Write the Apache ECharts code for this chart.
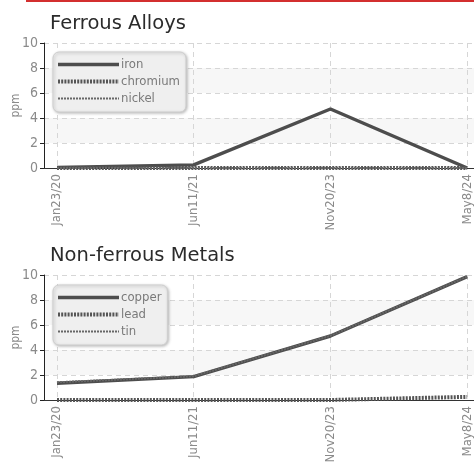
<!DOCTYPE html>
<html><head><meta charset="utf-8">
<script src="https://cdn.jsdelivr.net/npm/echarts@6/dist/echarts.min.js"></script>
<style>html,body{margin:0;padding:0;background:#fff}#c{width:474px;height:465px}</style>
</head><body><div id="c"></div>
<script>
const categories = ['Jan23/20', 'Jun11/21', 'Nov20/23', 'May8/24'];
const yTicks = [0, 2, 4, 6, 8, 10];
const ironValues = [0.05, 0.25, 4.72, 0];
const chromiumValues = [0, 0, 0, 0];
const nickelValues = [0, 0, 0, 0];
const copperValues = [1.34, 1.87, 5.12, 9.87];
const leadValues = [0, 0, 0, 0.25];
const tinValues = [1.42, 1.9, 5.14, 9.88];
const titles = ['Ferrous Alloys', 'Non-ferrous Metals'];
const ferrousNames = ['iron', 'chromium', 'nickel'];
const nonFerrousNames = ['copper', 'lead', 'tin'];

const NARROW = '"Liberation Sans Narrow","DejaVu Sans Condensed","Roboto Condensed",sans-serif';
const idx = categories.map((c, i) => i);
const pts = arr => arr.map((v, i) => [i, v]);
const styles = [
  {type: 'solid', width: 3.5, color: '#4d4d4d'},
  {type: [2, 1.2], width: 4, color: '#555'},
  {type: [2, 1], width: 2, color: '#666'}
];
function mkSeries(names, vals, gi) {
  return names.map((n, k) => ({
    name: n, type: 'line', xAxisIndex: gi, yAxisIndex: gi,
    data: pts(vals[k]), symbol: 'none',
    lineStyle: styles[k], itemStyle: {color: styles[k].color},
    animation: false, z: 3 + k
  }));
}
const grids = [
  {left: 44, top: 43, height: 125, right: 0, outerBoundsMode: 'none', containLabel: false},
  {left: 44, top: 275, height: 125, right: 0, outerBoundsMode: 'none', containLabel: false}
];
function xAx(gi) {
  return {
    gridIndex: gi, type: 'value', min: -0.095, max: 3.05,
    axisLine: {show: true, onZero: false, lineStyle: {color: '#333', width: 1}},
    axisTick: {show: false, customValues: idx},
    axisLabel: {customValues: idx, rotate: 90, margin: 6, color: '#8a8a8a', fontSize: 13, fontFamily: NARROW,
      formatter: v => categories[Math.round(v)] || ''},
    splitLine: {show: true, lineStyle: {type: [5, 4], color: '#d6d6d6', width: 1}}
  };
}
function yAx(gi) {
  return {
    gridIndex: gi, type: 'value', min: yTicks[0], max: yTicks[yTicks.length - 1], interval: 2,
    name: 'ppm', nameLocation: 'middle', nameGap: 22, nameRotate: 90, nameMoveOverlap: false,
    nameTextStyle: {color: '#8a8a8a', fontSize: 12, fontFamily: NARROW},
    axisLine: {show: true, onZero: false, lineStyle: {color: '#222', width: 1}},
    axisTick: {show: true, length: 4, lineStyle: {color: '#222'}},
    axisLabel: {color: '#8a8a8a', fontSize: 14, fontFamily: NARROW, margin: 6},
    splitLine: {show: true, lineStyle: {type: [5, 4], color: '#d6d6d6', width: 1}},
    splitArea: {show: true, areaStyle: {color: ['#ffffff', '#f7f7f7']}}
  };
}
function legend(names, top) {
  return {
    data: names, orient: 'vertical', left: 53, top: top,
    itemWidth: 61, itemHeight: 12, itemGap: 4,
    padding: [6, 6, 7, 3],
    backgroundColor: '#efefef', borderColor: '#cfcfcf', borderWidth: 1, borderRadius: 6,
    shadowBlur: 3, shadowColor: 'rgba(0,0,0,0.25)', shadowOffsetX: 1, shadowOffsetY: 1,
    itemStyle: {color: 'rgba(0,0,0,0)', borderColor: 'rgba(0,0,0,0)', borderWidth: 0, opacity: 0},
    lineStyle: {width: 'inherit', type: 'inherit', color: 'inherit'},
    textStyle: {color: '#7a7a7a', fontSize: 13, fontFamily: NARROW, padding: [0, 0, 0, -3]},
    selectedMode: false
  };
}
const chart = echarts.init(document.getElementById('c'), null, {renderer: 'canvas'});
chart.setOption({
  animation: false,
  title: [
    {text: titles[0], left: 45, top: 9, textStyle: {fontSize: 19.5, fontWeight: 'normal', color: '#2b2b2b', fontFamily: '"DejaVu Sans",sans-serif'}},
    {text: titles[1], left: 45, top: 241, textStyle: {fontSize: 19.5, fontWeight: 'normal', color: '#2b2b2b', fontFamily: '"DejaVu Sans",sans-serif'}}
  ],
  graphic: [{type: 'rect', left: 26, top: 0, shape: {width: 448, height: 2}, style: {fill: '#d32f2f'}}],
  legend: [legend(ferrousNames, 52), legend(nonFerrousNames, 285)],
  grid: grids,
  xAxis: [xAx(0), xAx(1)],
  yAxis: [yAx(0), yAx(1)],
  series: [].concat(
    mkSeries(ferrousNames, [ironValues, chromiumValues, nickelValues], 0),
    mkSeries(nonFerrousNames, [copperValues, leadValues, tinValues], 1)
  )
});
</script></body></html>
